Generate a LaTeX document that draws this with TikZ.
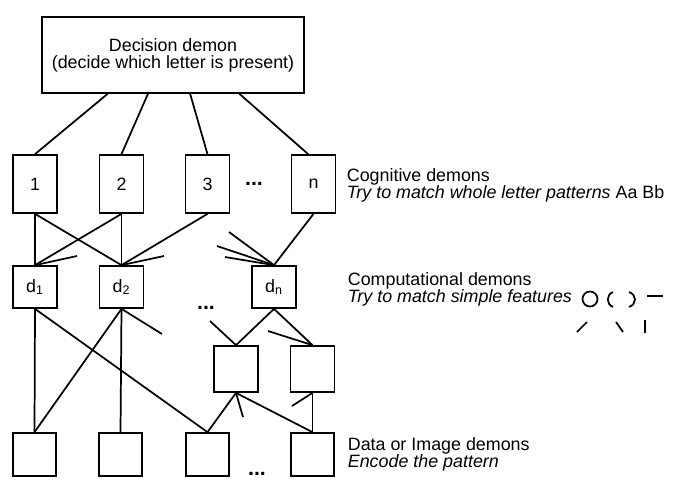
\documentclass[tikz,border=0pt]{standalone}
\usepackage{fontspec}
\setmainfont{Liberation Sans}
\usepackage{tikz}
\usetikzlibrary{positioning}
\usetikzlibrary{calc}

\begin{document}
\begin{tikzpicture}[x=0.75pt, y=-0.75pt, line width=1.3pt,
        font=\fontsize{13.4}{12.7}\selectfont,
        demon/.style={draw, 
        minimum width=33pt, 
        inner sep=0mm},
        cognitive/.style={demon, minimum height=43.5pt},
        computational/.style={demon, minimum height=31.5pt},
        image/.style={demon, minimum width=32.25pt, minimum height=32.25pt},
        caption/.style={anchor=base west, align=left, inner sep=0mm},
        more/.style={inner sep=0mm, font=\bfseries\fontsize{16}{16}\selectfont}]
        \useasboundingbox (0,0) rectangle (685,487);
        \node[demon, minimum width=196.5pt, minimum height=57pt, align=center] at (173,55) (decision) {Decision demon\\(decide which letter is present)};
        \node[cognitive] at (35,184) (cog1) {1};
        \node[cognitive] at (121.5,184) (cog2) {2};
        \node[cognitive] at (207.5,184) (cog3) {3};
        \node[cognitive] at (313.5,184) (cogn) {n};
        \node[more] at (254,184) (cogdots) {...};
        \node[computational] at (35,287) (comp1) {d\textsubscript{1}};
        \node[computational] at (121.5,287) (comp2) {d\textsubscript{2}};
        \node[computational] at (274,287) (compn) {d\textsubscript{n}};
        \node[more] at (206,308) (compdots) {...};
        \node[demon, minimum height=34.5pt] at (236,369) (feat1) {};
        \node[demon, minimum height=34.5pt] at (312.5,369) (feat2) {};
        \node[image] at (34.5,454.5) (data1) {};
        \node[image] at (120.5,454.5) (data2) {};
        \node[image] at (207.5,454.5) (data3) {};
        \node[image] at (312.5,454.5) (data4) {};
        \node[more] at (257,474) (datadots) {...};
        \node[caption] at (346,198) (cogtext) {Cognitive demons\\\textit{Try to match whole letter patterns} Aa Bb};
        \node[caption] at (347,302) (comptext) {Computational demons\\\textit{Try to match simple features}};
        \node[caption] at (347,467) (datatext) {Data or Image demons\\\textit{Encode the pattern}};
        \draw ($(decision.south west)!0.252!(decision.south east)$) -- (cog1.north);
        \draw ($(decision.south west)!0.405!(decision.south east)$) -- (cog2.north);
        \draw ($(decision.south west)!0.565!(decision.south east)$) -- (cog3.north);
        \draw ($(decision.south west)!0.752!(decision.south east)$) -- ([xshift=-4pt]cogn.north);
        \draw (cog1.south) -- (comp1.north);
        \draw (cog1.south) -- (comp2.north);
        \draw (cog2.south) -- (comp1.north);
        \draw (cog2.south) -- (comp2.north);
        \draw (cog3.south) -- (comp2.north);
        \draw (cogn.south) -- (compn.north);
        \coordinate (in1) at (77,256);
        \coordinate (in2) at (164,256);
        \coordinate (inna) at (229,232);
        \coordinate (innb) at (217,246);
        \coordinate (innc) at (225,257);
        \draw (comp1.north) -- (in1);
        \draw (comp2.north) -- (in2);
        \draw (compn.north) -- (inna);
        \draw (compn.north) -- (innb);
        \draw (compn.north) -- (innc);
        \draw (comp1.south) -- (data1.north);
        \draw (comp1.south) -- (data3.north);
        \draw (comp2.south) -- (data1.north);
        \draw (comp2.south) -- (data2.north);
        \draw (compn.south) -- (feat1.north);
        \draw (compn.south) -- (feat2.north);
        \draw (data3.north) -- (feat1.south);
        \draw (data4.north) -- (feat1.south);
        \draw (data4.north) -- (feat2.south);
        \coordinate (out2) at (162,334);
        \coordinate (fin1) at (210,321);
        \coordinate (fin2) at (268,331);
        \coordinate (fout1) at (243,417);
        \coordinate (fout2) at (292,406);
        \draw (comp2.south) -- (out2);
        \draw (feat1.north) -- (fin1);
        \draw (feat2.north) -- (fin2);
        \draw (feat1.south) -- (fout1);
        \draw (feat2.south) -- (fout2);
        % simple features
        \draw (590,299) circle [x radius=7.5, y radius=7.5];
        \draw (613,292) .. controls (606,295) and (606,304) .. (613,307);
        \draw (629,292) .. controls (637,295) and (637,304) .. (629,307);
        \draw (647,296) -- (663,296);
        \draw (577,332) -- (587,322);
        \draw (616,322) -- (623,332);
        \draw (645,320) -- (645,333);
    \end{tikzpicture}
\end{document}
